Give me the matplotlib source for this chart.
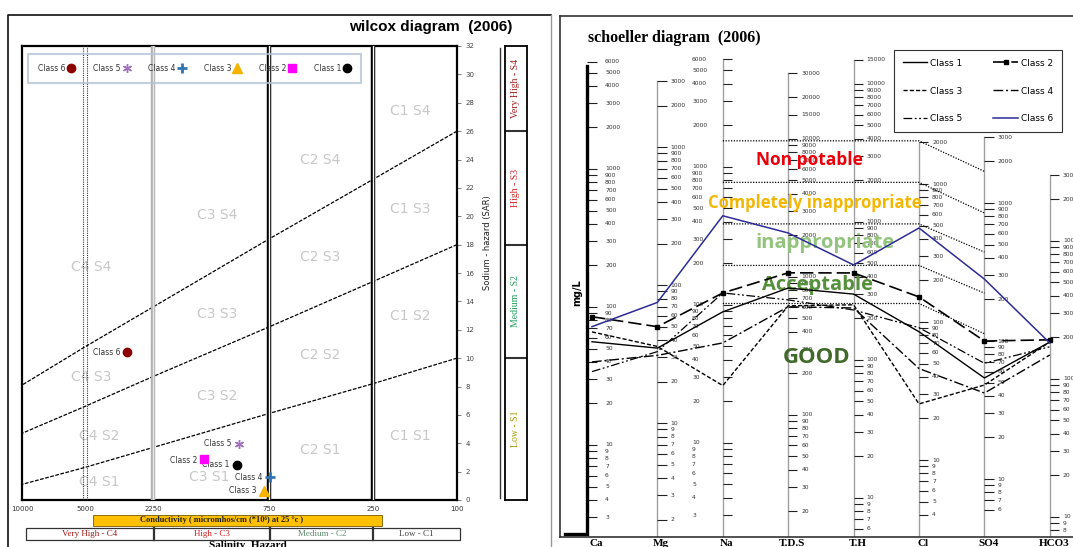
#!/usr/bin/env python3
"""Wilcox and Schoeller diagrams for the 2006 water samples, side by side."""

import matplotlib
matplotlib.use('Agg')
import matplotlib.pyplot as plt
from matplotlib.patches import Rectangle
from matplotlib.ticker import NullLocator
import numpy as np

W, H = 1073, 547

classes = ['Class 1', 'Class 2', 'Class 3', 'Class 4', 'Class 5', 'Class 6']

# Wilcox: conductivity (micromhos/cm) and sodium adsorption ratio per class
wil_ec = [1020, 1390, 790, 745, 1000, 3040]
wil_sar = [2.5, 2.9, 0.65, 1.6, 3.95, 10.4]

# sodium hazard boundaries, read at the salinity class limits
ec_breaks = [100, 250, 750, 2250, 5000, 10000]
sar_s1_s2 = [10, 8.2, 6.1, 3.7, 2.3, 1.1]
sar_s2_s3 = [18, 15.4, 12.2, 8.7, 6.6, 4.7]
sar_s3_s4 = [26, 22.6, 18.4, 13.6, 10.8, 8.1]

# Schoeller: mg/L per parameter and class
ions = ['Ca', 'Mg', 'Na', 'T.D.S', 'T.H', 'Cl', 'SO4', 'HCO3']
sch_class1 = [56, 35, 89, 830, 300, 85, 54, 185]
sch_class2 = [85, 50, 122, 1070, 427, 152, 100, 192]
sch_class3 = [66, 36, 26, 617, 251, 25.5, 48, 185]
sch_class4 = [40, 31, 53, 607, 238, 46, 42, 149]
sch_class5 = [34, 33, 122, 681, 230, 91, 69, 171]
sch_class6 = [72, 75, 442, 2080, 488, 480, 281, 182]
# mg/L per meq/L for each column of the diagram
ion_eq_weight = [20, 13.9, 19.3, 121, 48.4, 25.7, 35.3, 66.4]

# potability limits (meq/L): flat from Na to Cl, then down to SO4
zone_names = ['Non potable', 'Completely inappropriate', 'inappropriate',
              'Acceptable', 'GOOD']
zone_limit_meq = [80, 40, 20, 10, 5.3]
zone_limit_so4_meq = [48, 24, 12.5, 6.3, 3.2]

# printed scale of every column (mg/L)
ladder = [30000, 20000, 15000, 10000, 9000, 8000, 7000, 6000, 5000, 4000,
          3000, 2000, 1000, 900, 800, 700, 600, 500, 400, 300, 200,
          100, 90, 80, 70, 60, 50, 40, 30, 20, 10, 9, 8, 7, 6, 5, 4, 3, 2]
scale_top = [6000, 3000, 6000, 30000, 15000, 2000, 3000, 3000]
scale_bottom = [3, 2, 3, 20, 6, 4, 6, 8]


def px_rect(left, top, right, bottom):
    return [left / W, 1 - bottom / H, (right - left) / W, (bottom - top) / H]


# conductivity axis: the salinity limits are spaced like the printed chart
ec_axis_pos = [0, 0.193, 0.432, 0.699, 0.855, 1.0]
log_breaks = np.log10(ec_breaks)


def ec_forward(x):
    return np.interp(np.log10(np.clip(x, 1e-3, None)), log_breaks, ec_axis_pos)


def ec_inverse(u):
    return 10 ** np.interp(u, ec_axis_pos, log_breaks)


fig = plt.figure(figsize=(W / 100, H / 100), dpi=100)

# pixel-space layer for frames, captions and boxes
bg = fig.add_axes([0, 0, 1, 1])
bg.set_xlim(0, W)
bg.set_ylim(H, 0)
bg.axis('off')

# ---------------------------------------------------------------- Wilcox
bg.plot([8, 8, 551], [547, 14.5, 14.5], color='#222222', lw=1.3)
bg.plot([551, 551], [14.5, 547], color='#999999', lw=1.0)
bg.text(512, 27.5, 'wilcox diagram  (2006)', ha='right', va='center',
        fontsize=11, weight='bold', family='Liberation Sans')

ax = fig.add_axes(px_rect(22, 46, 457, 500))
ax.set_xscale('function', functions=(ec_forward, ec_inverse))
ax.set_xlim(10000, 100)
ax.set_ylim(0, 32)
ax.set_xticks(ec_breaks)
ax.set_xticklabels([str(v) for v in ec_breaks])
ax.xaxis.set_minor_locator(NullLocator())
ax.tick_params(axis='x', labelsize=5, length=0, pad=4, labelcolor='#333333')
ax.yaxis.tick_right()
ax.set_yticks(np.arange(0, 33, 2))
ax.tick_params(axis='y', labelsize=5, length=3, width=0.6, pad=3,
               labelcolor='#444444', color='#666666')
ax.yaxis.set_label_position('right')
ax.set_ylabel('Sodium - hazard (SAR)', fontsize=6, color='#222222')
ax.yaxis.set_label_coords(1.06, 0.566)
for s in ax.spines.values():
    s.set_linewidth(1.6)

for ec in (250, 750):
    ax.axvline(ec, color='black', lw=3.2, zorder=5)
    ax.axvline(ec, color='white', lw=1.0, zorder=5)
ax.axvline(2250, color='#b0b0b0', lw=3.2, zorder=5)
ax.axvline(2250, color='#e4e4e4', lw=1.0, zorder=5)
for ec in (5000 * 0.98, 5000 * 1.02):
    ax.axvline(ec, color='#333333', lw=0.8, dashes=(1, 1), zorder=5)

for sar in (sar_s1_s2, sar_s2_s3, sar_s3_s4):
    ax.plot(ec_breaks, sar, color='black', lw=0.9, dashes=(3, 1.2), zorder=2)

zone_cells = [('C1 S4', 166, 27.4), ('C1 S3', 166, 20.5), ('C1 S2', 166, 13.0),
              ('C1 S1', 166, 4.5), ('C2 S4', 438, 24.0), ('C2 S3', 438, 17.1),
              ('C2 S2', 438, 10.2), ('C2 S1', 438, 3.5), ('C3 S4', 1225, 20.1),
              ('C3 S3', 1225, 13.1), ('C3 S2', 1225, 7.3), ('C3 S1', 1324, 1.6),
              ('C4 S4', 4650, 16.4), ('C4 S3', 4650, 8.7), ('C4 S2', 4220, 4.5),
              ('C4 S1', 4250, 1.3)]
for name, ec, sar in zone_cells:
    ax.text(ec, sar, name, ha='center', va='center', fontsize=10,
            color='#c8c8c8', zorder=1.5)

markers = [dict(marker='o', color='black', ms=6),
           dict(marker='s', color='#ff00ff', ms=6),
           dict(marker='^', color='#f4b400', ms=6.5),
           dict(marker='+', color='#2f75b5', ms=7, mew=2),
           dict(marker=(6, 2, 0), color='#a070c0', ms=6.5, mew=1),
           dict(marker='o', color='#8b0000', ms=6)]
handles = []
for name, ec, sar, mk in zip(classes, wil_ec, wil_sar, markers):
    h, = ax.plot([ec], [sar], linestyle='none', zorder=6, label=name, **mk)
    handles.append(h)
    ax.annotate(name, (ec, sar), xytext=(-5, -1 if name == 'Class 2' else 0),
                textcoords='offset points', ha='right', va='center',
                fontsize=5.5, color='#333333', zorder=6)

# legend sits over the limit lines, which show through it
leg = ax.legend(handles[::-1], classes[::-1], ncol=6, markerfirst=False,
                loc='upper left', bbox_to_anchor=(0.0046, 0.991, 0.784, 0),
                mode='expand', fontsize=5.5, fancybox=False,
                facecolor='none', edgecolor='#b4c4d4', borderpad=1.3,
                handletextpad=0.3, handlelength=1.0, labelcolor='#333333')
leg.get_frame().set_linewidth(1.5)

# sodium hazard class strip on the right
sx = fig.add_axes(px_rect(505, 46, 527, 500))
sx.set_xlim(0, 1)
sx.set_ylim(0, 32)
sx.set_xticks([])
sx.set_yticks([])
for s in sx.spines.values():
    s.set_linewidth(1.3)
s_bounds = [0, sar_s1_s2[0], sar_s2_s3[0], sar_s3_s4[0], 32]
s_names = ['Low - S1', 'Medium - S2', 'High - S3', 'Very High - S4']
s_colors = ['#a89a00', '#1f9e5a', '#d42020', '#a01818']
for lo, hi, name, c in zip(s_bounds[:-1], s_bounds[1:], s_names, s_colors):
    if lo > 0:
        sx.axhline(lo, color='#333333', lw=1.5)
    sx.text(0.5, (lo + hi) / 2, name, rotation=90, ha='center', va='center',
            fontsize=7, color=c, family='Liberation Serif')
bg.plot([500, 500], [48, 498], color='#333333', lw=1.0)

# salinity captions under the plot
bg.add_patch(Rectangle((93, 515), 289, 11, facecolor='#ffc000',
                       edgecolor='#7a5a00', lw=0.6))
bg.text(222, 520.5, 'Conductivity ( micromhos/cm (*10\u2076) at 25 \u00b0c )',
        ha='center', va='center', fontsize=6, weight='bold',
        family='Liberation Serif', color='#222222')
bg.add_patch(Rectangle((26, 528), 434, 12, facecolor='none',
                       edgecolor='#333333', lw=0.9))
for x in (154, 270, 373):
    bg.plot([x, x], [528, 540], color='#333333', lw=1.6)
c_boxes = [('Very High - C4', 90, '#a01818'), ('High - C3', 212, '#c81e1e'),
           ('Medium - C2', 322, '#5b8a6b'), ('Low - C1', 416, '#444444')]
for name, x, c in c_boxes:
    bg.text(x, 534, name, ha='center', va='center', fontsize=6.5,
            family='Liberation Serif', color=c)
bg.text(248, 541, 'Salinity  Hazard', ha='center', va='top', fontsize=8,
        weight='bold', family='Liberation Serif')

# ------------------------------------------------------------- Schoeller
ax2 = fig.add_axes(px_rect(560, 16, 1085, 537))
ax2.set_yscale('log')
ax2.set_xlim(-0.489, 7.538)
ax2.set_ylim(0.1077, 642)
ax2.set_xticks([])
ax2.set_yticks([])
ax2.yaxis.set_minor_locator(NullLocator())
for side in ('left', 'top', 'bottom'):
    ax2.spines[side].set_color('#333333')
    ax2.spines[side].set_linewidth(1.2)
ax2.spines['right'].set_visible(False)

eq = np.array(ion_eq_weight)
k_pos = np.arange(len(ions))
ymin = ax2.get_ylim()[0]

# per-column printed scales
for k, (top, bot, w) in enumerate(zip(scale_top, scale_bottom, ion_eq_weight)):
    vals = [v for v in ladder if bot <= v <= top]
    yv = np.array(vals) / w
    x0 = -0.07 if k == 0 else k
    if k > 0:
        ax2.plot([k, k], [top / w, ymin], color='#a0a0a0', lw=1.0, zorder=1)
    ax2.hlines(yv, x0, x0 + 0.14, color='#222222', lw=0.8, zorder=1)
    dx = -0.47 if k == 2 else 0.2
    for v, y in zip(vals, yv):
        ax2.text(k + dx, y, str(v), fontsize=4.3, ha='left', va='center',
                 color='#333333', zorder=1)

# mg/L axis bracket
ax2.plot([-0.41, -0.07, -0.07], [0.113, 0.113, 279], color='black', lw=2.4,
         zorder=2, solid_joinstyle='miter')
ax2.text(-0.23, 6.4, 'mg/L', rotation=90, ha='center', va='center',
         fontsize=7, weight='bold')
for k, name in enumerate(ions):
    ax2.text(k + 0.06, -0.004, name, transform=ax2.get_xaxis_transform(),
             ha='center', va='top', fontsize=8, weight='bold',
             family='Liberation Serif')

# potability limits and zone names
for lim, lim_so4 in zip(zone_limit_meq, zone_limit_so4_meq):
    ax2.plot([2, 5, 6], [lim, lim, lim_so4], color='black', lw=0.9,
             dashes=(1, 1.2), zorder=2)
zone_style = [(3.33, 58, '#e8000b', 12.5), (3.41, 28.4, '#f2b705', 12),
              (3.56, 14.6, '#93c47d', 14.5), (3.45, 7.2, '#55903a', 14.5),
              (3.44, 2.17, '#41692a', 16)]
for name, (x, y, c, fs) in zip(zone_names, zone_style):
    ax2.text(x, y, name, ha='center', va='center', fontsize=fs, color=c,
             weight='bold', family='Open Sans', zorder=3)

series = [sch_class1, sch_class2, sch_class3, sch_class4, sch_class5,
          sch_class6]
styles = [dict(color='black', lw=1.0),
          dict(color='black', lw=1.2, dashes=(8, 3), marker='s', ms=2.5),
          dict(color='black', lw=1.0, dashes=(3, 1.5)),
          dict(color='black', lw=1.0, dashes=(7, 2, 1.5, 2)),
          dict(color='black', lw=0.9, dashes=(7, 2, 1.5, 2, 1.5, 2)),
          dict(color='#2c2c96', lw=1.1)]
sch_handles = []
for name, vals, st in zip(classes, series, styles):
    h, = ax2.plot(k_pos, np.array(vals) / eq, label=name, zorder=4, **st)
    sch_handles.append(h)

# two columns filled row by row: 1 2 / 3 4 / 5 6
order = [0, 2, 4, 1, 3, 5]
leg2 = ax2.legend([sch_handles[i] for i in order], [classes[i] for i in order],
                  ncol=2, loc='upper left',
                  bbox_to_anchor=(889 / W, 1 - 45 / H),
                  bbox_transform=fig.transFigure, fontsize=6.5,
                  fancybox=False, framealpha=1, edgecolor='#333333',
                  borderpad=1.0, labelspacing=2.1, handlelength=2.7,
                  handletextpad=0.3, columnspacing=3.5)
leg2.get_frame().set_linewidth(0.8)

fig.text(588 / W, 1 - 38 / H, 'schoeller diagram  (2006)', ha='left',
         va='center', fontsize=11.5, weight='bold', family='Liberation Serif')

fig.savefig('out.png', dpi=100)
